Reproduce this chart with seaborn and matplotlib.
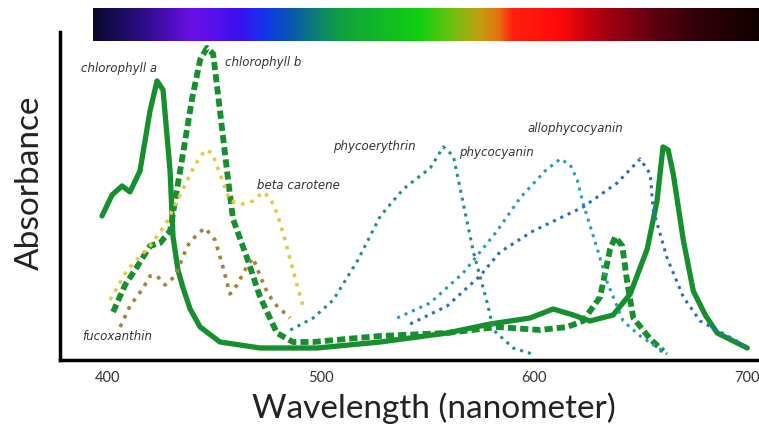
import numpy as np
import pandas as pd
import matplotlib
matplotlib.use("Agg")
import matplotlib.pyplot as plt
from matplotlib.colors import LinearSegmentedColormap
import seaborn as sns

# Absorption spectra (wavelength nm, relative absorbance)
chl_a_nm = [397.5, 402.2, 406.9, 410.6, 415.3, 420.0, 423.3, 426.1, 429.4, 430.8, 433.1, 435.5,
            438.8, 443.5, 452.8, 471.6, 498.3, 527.9, 559.3, 579.5, 598.2, 609.0, 618.4, 626.3,
            637.1, 645.1, 653.1, 657.7, 660.5, 662.9, 665.3, 670.0, 674.7, 680.3, 685.9, 700.0]
chl_a_abs = [0.48, 0.55, 0.58, 0.56, 0.63, 0.83, 0.93, 0.90, 0.63, 0.41, 0.30, 0.24,
             0.17, 0.11, 0.06, 0.04, 0.04, 0.06, 0.09, 0.12, 0.14, 0.17, 0.15, 0.13,
             0.15, 0.22, 0.37, 0.53, 0.71, 0.70, 0.62, 0.40, 0.23, 0.15, 0.09, 0.04]

chl_b_nm = [402.7, 408.3, 413.9, 420.0, 424.7, 429.4, 434.1, 439.7, 443.5, 446.7, 449.6, 452.8,
            456.1, 458.9, 465.5, 471.6, 479.5, 487.0, 496.4, 527.9, 559.3, 582.7, 602.9, 615.5,
            623.0, 631.0, 635.7, 638.1, 641.4, 643.7, 646.6, 654.5, 660.6]
chl_b_abs = [0.16, 0.25, 0.31, 0.38, 0.39, 0.43, 0.63, 0.87, 1.00, 1.04, 1.02, 0.83,
             0.63, 0.47, 0.34, 0.21, 0.09, 0.06, 0.06, 0.08, 0.09, 0.11, 0.10, 0.11,
             0.13, 0.21, 0.37, 0.41, 0.38, 0.26, 0.14, 0.07, 0.03]

beta_nm = [401.3, 409.3, 420.0, 427.1, 434.1, 441.1, 445.8, 449.1, 452.8, 457.5, 463.6, 468.3,
           473.0, 476.3, 479.5, 483.3, 487.0, 491.7]
beta_abs = [0.20, 0.30, 0.38, 0.45, 0.55, 0.65, 0.70, 0.69, 0.62, 0.53, 0.52, 0.53,
            0.56, 0.54, 0.49, 0.40, 0.30, 0.18]

fuco_nm = [406.0, 410.6, 416.8, 420.0, 423.3, 427.1, 431.8, 437.5, 442.2, 445.8, 450.5, 453.8,
           457.5, 460.8, 464.5, 468.3, 471.6, 475.3, 479.5, 485.6]
fuco_abs = [0.11, 0.18, 0.24, 0.28, 0.28, 0.25, 0.28, 0.38, 0.42, 0.44, 0.40, 0.32,
            0.22, 0.25, 0.30, 0.34, 0.28, 0.22, 0.18, 0.14]

pe_nm = [485.8, 496.5, 505.9, 517.2, 528.0, 538.8, 551.4, 557.5, 562.2, 566.9, 571.6, 578.1,
         581.0, 590.3, 599.2]
pe_abs = [0.10, 0.14, 0.20, 0.33, 0.48, 0.57, 0.64, 0.71, 0.68, 0.52, 0.36, 0.19,
          0.10, 0.04, 0.02]

pc_nm = [535.9, 551.3, 566.8, 582.7, 593.5, 605.2, 612.3, 617.0, 620.3, 623.1, 629.7, 634.3,
         641.8, 649.8, 662.4]
pc_abs = [0.14, 0.19, 0.29, 0.43, 0.54, 0.63, 0.67, 0.65, 0.60, 0.52, 0.37, 0.26,
          0.13, 0.08, 0.02]

apc_nm = [542.0, 559.3, 574.7, 584.1, 599.6, 623.1, 639.0, 649.8, 654.5, 655.9, 662.4, 670.0,
          677.9, 693.4, 700.0]
apc_abs = [0.12, 0.18, 0.28, 0.36, 0.43, 0.51, 0.59, 0.67, 0.62, 0.50, 0.34, 0.21,
           0.13, 0.07, 0.04]

x_ticks = [400, 500, 600, 700]

# visible spectrum strip (fraction along the strip, colour)
spectrum_stops = [(0.0, "#0a0a30"), (0.07, "#2a0c80"), (0.15, "#6a10e8"), (0.22, "#3a10f0"),
                  (0.26, "#1038e8"), (0.30, "#0a5aa8"), (0.37, "#10a040"), (0.49, "#10d010"),
                  (0.54, "#70c010"), (0.58, "#c0a010"), (0.61, "#e87010"), (0.63, "#ff2010"),
                  (0.70, "#ff0a0a"), (0.76, "#b00010"), (0.84, "#600010"), (0.91, "#300008"),
                  (1.0, "#100000")]

sns.set_style("white")
plt.rcParams['font.family'] = ['Lato', 'DejaVu Sans']

fig = plt.figure(figsize=(7.59, 4.29), dpi=100)
ax = fig.add_axes([60 / 759, 69 / 429, 699 / 759, 328 / 429])

green = "#178f2e"
rnd = dict(solid_joinstyle="round", solid_capstyle="round", dash_joinstyle="round")
sns.lineplot(x=chl_a_nm, y=chl_a_abs, ax=ax, color=green, lw=3.8, sort=False, **rnd)
sns.lineplot(x=chl_b_nm, y=chl_b_abs, ax=ax, color=green, lw=4.2, sort=False,
             linestyle=(0, (1.4, 0.7)))
sns.lineplot(x=beta_nm, y=beta_abs, ax=ax, color="#e6c84a", lw=2.6, sort=False, linestyle=":", **rnd)
sns.lineplot(x=fuco_nm, y=fuco_abs, ax=ax, color="#a5843a", lw=2.6, sort=False, linestyle=":", **rnd)
sns.lineplot(x=pe_nm, y=pe_abs, ax=ax, color="#1f8f8a", lw=2.2, sort=False, linestyle=":", **rnd)
sns.lineplot(x=pc_nm, y=pc_abs, ax=ax, color="#2a9cc2", lw=2.2, sort=False, linestyle=":", **rnd)
sns.lineplot(x=apc_nm, y=apc_abs, ax=ax, color="#2a6ec4", lw=2.2, sort=False, linestyle=":", **rnd)

lab = dict(fontsize=8.5, style="italic", color="#333333", family="DejaVu Sans")
ax.text(387.5, 0.97, "chlorophyll a", va="center", **lab)
ax.text(455.2, 0.99, "chlorophyll b", va="center", **lab)
ax.text(470.2, 0.58, "beta carotene", va="center", **lab)
ax.text(505.8, 0.71, "phycoerythrin", va="center", **lab)
ax.text(565.0, 0.69, "phycocyanin", va="center", **lab)
ax.text(596.8, 0.77, "allophycocyanin", va="center", **lab)
ax.text(388.1, 0.077, "fucoxanthin", va="center", **lab)

ax.set_xlim(377.8, 705.5)
ax.set_ylim(0, 1.093)
ax.set_xticks(x_ticks)
ax.set_yticks([])
ax.tick_params(axis="x", direction="in", length=10, width=2, labelsize=10.5, pad=8,
               labelcolor="#333333")
for s in ["top", "right"]:
    ax.spines[s].set_visible(False)
for s in ["left", "bottom"]:
    ax.spines[s].set_linewidth(2.5)
    ax.spines[s].set_color("black")
ax.set_xlabel("Wavelength (nanometer)", fontsize=24, color="#222222", va="center")
ax.xaxis.set_label_coords(0.535, -0.148)
ax.set_ylabel("Absorbance", fontsize=24, color="#222222", va="center")
ax.yaxis.set_label_coords(-0.043, 0.54)

# spectrum strip on top
cax = fig.add_axes([93 / 759, 1 - 41 / 429, 666 / 759, 33 / 429])
cmap = LinearSegmentedColormap.from_list("spec", spectrum_stops)
cax.imshow(np.linspace(0, 1, 512)[None, :], aspect="auto", cmap=cmap)
cax.axis("off")

plt.savefig("out.png", dpi=100)
